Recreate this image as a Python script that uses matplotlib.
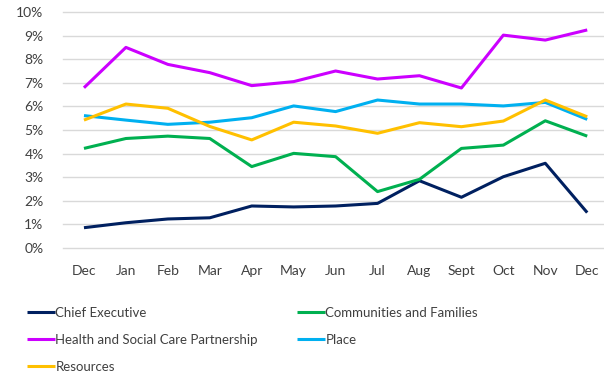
import matplotlib
matplotlib.use("Agg")
import matplotlib.pyplot as plt
from matplotlib.ticker import PercentFormatter

months = ["Dec", "Jan", "Feb", "Mar", "Apr", "May", "Jun", "Jul", "Aug", "Sept", "Oct", "Nov", "Dec"]

chief_executive = [0.86, 1.07, 1.23, 1.28, 1.78, 1.74, 1.78, 1.89, 2.85, 2.15, 3.02, 3.59, 1.50]
communities_families = [4.22, 4.64, 4.74, 4.64, 3.45, 4.01, 3.87, 2.39, 2.91, 4.22, 4.36, 5.39, 4.74]
health_social_care = [6.79, 8.50, 7.78, 7.43, 6.88, 7.05, 7.50, 7.16, 7.30, 6.78, 9.02, 8.81, 9.24]
place = [5.61, 5.42, 5.24, 5.33, 5.52, 6.02, 5.78, 6.27, 6.10, 6.10, 6.02, 6.17, 5.45]
resources = [5.42, 6.10, 5.92, 5.15, 4.58, 5.33, 5.17, 4.86, 5.31, 5.14, 5.38, 6.27, 5.56]

series = [
    ("Chief Executive", chief_executive, "#002060"),
    ("Communities and Families", communities_families, "#00B050"),
    ("Health and Social Care Partnership", health_social_care, "#CC00FF"),
    ("Place", place, "#00B0F0"),
    ("Resources", resources, "#FFC000"),
]

plt.rcParams["font.family"] = ["Lato", "DejaVu Sans"]
text_color = "#404040"

fig = plt.figure(figsize=(6.04, 3.76), dpi=100)
ax = fig.add_axes([63 / 604, (376 - 248) / 376, (604 - 63) / 604, (248 - 12) / 376])

x = list(range(len(months)))
handles = {}
for name, vals, color in series:
    (ln,) = ax.plot(x, [v / 100 for v in vals], color=color, lw=2.2, label=name,
                    solid_capstyle="butt", zorder=3)
    handles[name] = ln

ax.set_xlim(-0.5, 12.4)
ax.set_ylim(0, 0.10)
ax.set_yticks([i / 100 for i in range(11)])
ax.yaxis.set_major_formatter(PercentFormatter(1.0, decimals=0))
ax.set_xticks(x)
ax.set_xticklabels(months)
ax.grid(axis="y", color="#d9d9d9", lw=1.0)
ax.set_axisbelow(True)
for s in ax.spines.values():
    s.set_visible(False)
ax.tick_params(axis="both", length=0, labelsize=10, colors=text_color)
ax.tick_params(axis="y", pad=14)
ax.tick_params(axis="x", pad=12)
for gl in ax.get_ygridlines():
    gl.set_clip_on(False)

leg_kw = dict(frameon=False, fontsize=9.5, handlelength=2.1, handletextpad=0.05,
              labelspacing=1.13, borderpad=0, borderaxespad=0, labelcolor=text_color)
col1 = ["Chief Executive", "Health and Social Care Partnership", "Resources"]
col2 = ["Communities and Families", "Place"]
fig.legend([handles[n] for n in col1], col1, loc="upper left",
           bbox_to_anchor=(27 / 604, 1 - 307 / 376), **leg_kw)
fig.legend([handles[n] for n in col2], col2, loc="upper left",
           bbox_to_anchor=(297 / 604, 1 - 307 / 376), **leg_kw)

fig.savefig("out.png", dpi=100)
